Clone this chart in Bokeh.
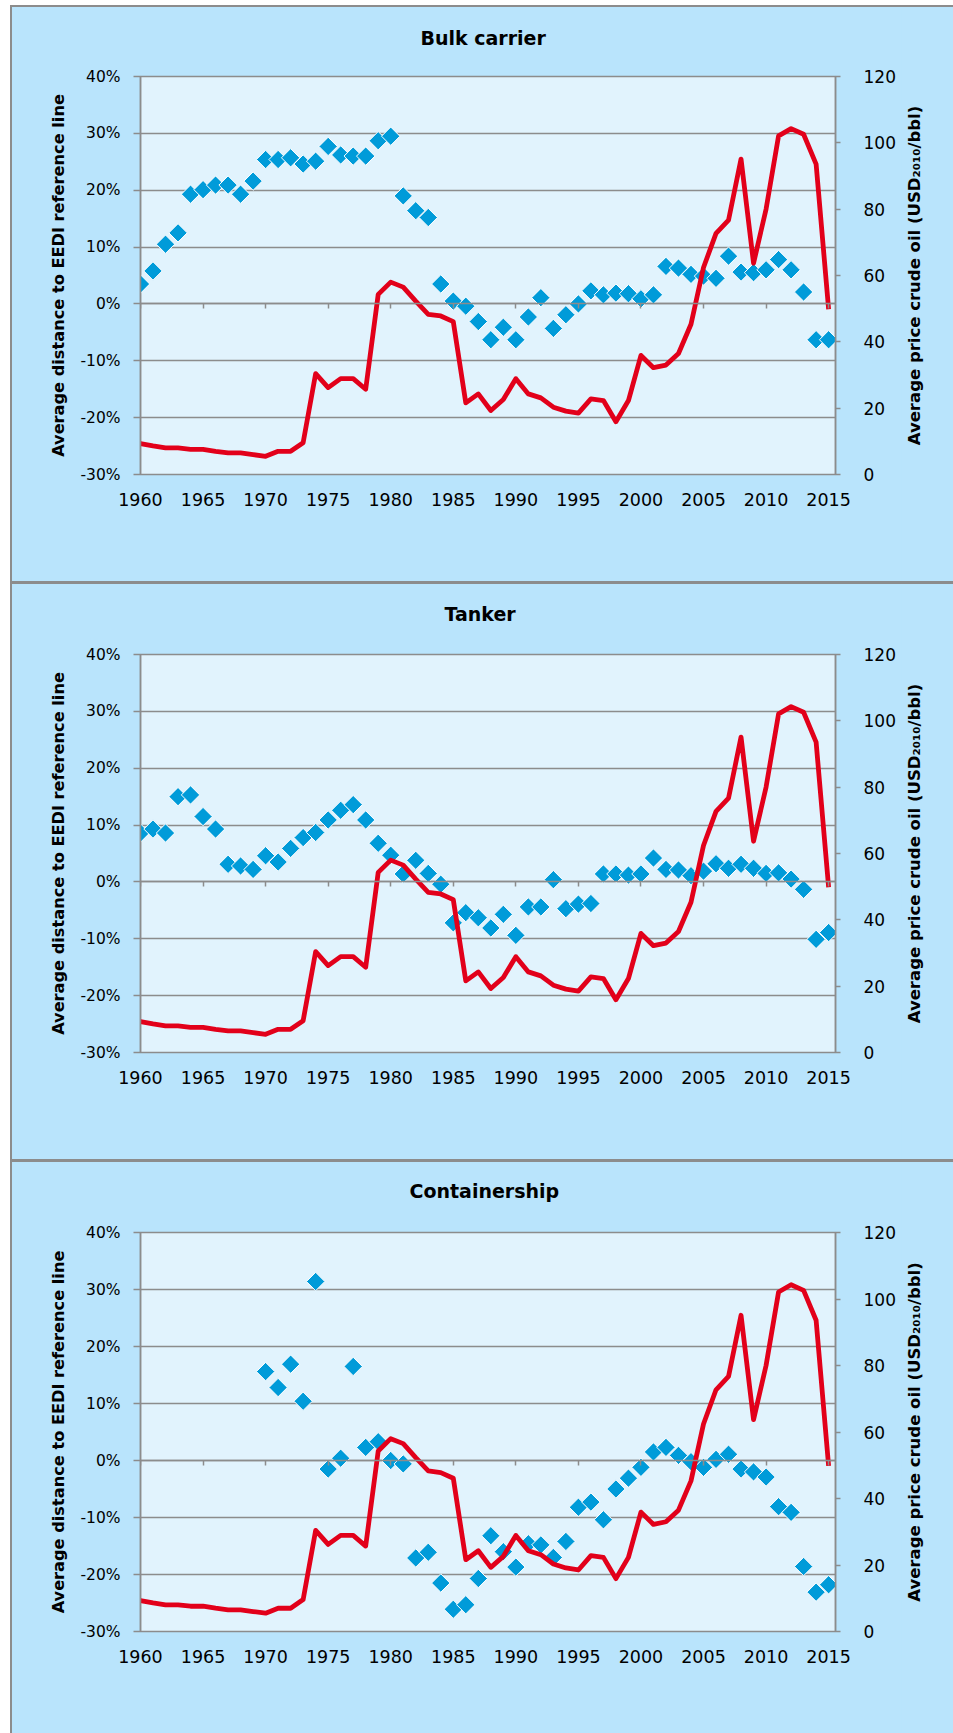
import math
from bokeh.plotting import figure
from bokeh.models import (Range1d, LinearAxis, FixedTicker, PrintfTickFormatter,
                          ColumnDataSource, Spacer, Title)
from bokeh.layouts import column, row
from bokeh.embed import file_html
from bokeh.resources import INLINE

NaN = float("nan")

years = list(range(1960, 2016))

oil_price = [9.3, 8.6, 8.0, 8.0, 7.6, 7.6, 7.0, 6.5, 6.5, 6.0,
             5.5, 7.0, 7.0, 9.6, 30.4, 26.2, 28.9, 28.9, 25.7, 54.3,
             58.0, 56.5, 52.3, 48.3, 47.8, 46.1, 21.6, 24.3, 19.3, 22.6,
             28.9, 24.3, 23.1, 20.3, 19.1, 18.5, 22.8, 22.3, 15.9, 22.3,
             35.9, 32.2, 33.0, 36.5, 45.3, 62.4, 72.7, 76.7, 95.1, 63.7,
             80.0, 102.1, 104.3, 102.6, 93.6, 49.8]

bulk_carrier = [3.5, 5.8, 10.5, 12.5, 19.3, 20.1, 20.9, 20.9, 19.3, 21.6,
                25.4, 25.4, 25.7, 24.6, 25.1, 27.7, 26.2, 26.0, 26.0, 28.7,
                29.5, 19.0, 16.4, 15.2, 3.5, 0.5, -0.4, -3.1, -6.3, -4.1,
                -6.3, -2.3, 1.1, -4.3, -1.9, 0.0, 2.3, 1.6, 1.9, 1.8,
                0.9, 1.6, 6.6, 6.3, 5.2, 4.9, 4.5, 8.4, 5.6, 5.5,
                6.0, 7.8, 6.0, 2.1, -6.3, -6.3]

tanker = [8.6, 9.3, 8.6, 15.0, 15.3, 11.5, 9.3, 3.1, 2.8, 2.2,
          4.6, 3.5, 5.9, 7.8, 8.7, 10.9, 12.6, 13.6, 10.9, 6.8,
          4.7, 1.4, 3.8, 1.5, -0.4, -7.2, -5.4, -6.3, -8.1, -5.7,
          -9.4, -4.4, -4.4, 0.4, -4.7, -3.9, -3.8, 1.4, 1.4, 1.2,
          1.4, 4.2, 2.2, 2.1, 1.1, 1.9, 3.2, 2.4, 3.1, 2.4,
          1.5, 1.6, 0.5, -1.3, -10.1, -8.9]

containership = [NaN] * 10 + [
    15.6, 12.8, 16.9, 10.4, 31.4, -1.5, 0.4, 16.5, 2.3, 3.3,
    0.0, -0.6, -17.1, -16.1, -21.5, -26.1, -25.3, -20.7, -13.2, -16.0,
    -18.7, -14.6, -14.8, -17.0, -14.2, -8.2, -7.3, -10.4, -5.0, -3.1,
    -1.2, 1.5, 2.3, 0.9, -0.2, -1.2, 0.2, 1.1, -1.5, -2.0,
    -2.9, -8.1, -9.1, -18.6, -23.1, -21.8]

titles = ["Bulk carrier", "Tanker", "Containership"]
x_ticks = list(range(1960, 2016, 5))
left_ticks = list(range(-30, 41, 10))
right_ticks = list(range(0, 121, 20))
left_label = "Average distance to EEDI reference line"
right_label = "Average price crude oil (USD\u2082\u2080\u2081\u2080/bbl)"

BG = "#B9E4FC"
PLOT_BG = "#E1F3FD"
GRAY = "#8C8C8C"
BLUE = "#009BD9"
RED = "#E2001A"
TICK_FONT = "DejaVu Sans"
LABEL_FONT = "DejaVu Sans"

MAIN_W = 889
SIDE_W = 52


def make_panel(title, values, height, top, frame_h, title_offset, title_gap):
    bottom = height - top - frame_h
    p = figure(width=MAIN_W, height=height, output_backend="svg", toolbar_location=None,
               x_range=Range1d(1960, 2015.55), y_range=Range1d(-30, 40),
               min_border_left=128, min_border_right=MAIN_W - 128 - 695,
               min_border_top=top, min_border_bottom=bottom,
               border_fill_color=BG, background_fill_color=PLOT_BG,
               outline_line_color=GRAY, outline_line_width=1.5,
               title=None)
    p.extra_y_ranges = {"price": Range1d(0, 120)}

    # spacing element between frame and title, then the title itself
    p.add_layout(Title(text=" ", text_font_size="1px", standoff=title_gap), "above")
    p.add_layout(Title(text=title, align="left", offset=title_offset, standoff=4,
                       text_font=LABEL_FONT, text_font_style="bold",
                       text_font_size="19px", text_color="black"), "above")

    # grid
    p.xgrid.grid_line_color = None
    p.ygrid.ticker = FixedTicker(ticks=left_ticks)
    p.ygrid.grid_line_color = GRAY
    p.ygrid.grid_line_width = 1.5

    # bottom axis with labels only
    xa = p.xaxis[0]
    xa.ticker = FixedTicker(ticks=x_ticks)
    xa.axis_line_color = None
    xa.major_tick_line_color = None
    xa.major_tick_out = 0
    xa.minor_tick_line_color = None
    xa.major_label_standoff = 18
    xa.major_label_text_font = TICK_FONT
    xa.major_label_text_font_size = "17.5px"
    xa.major_label_text_color = "black"

    # left axis
    ya = p.yaxis[0]
    ya.ticker = FixedTicker(ticks=left_ticks)
    ya.formatter = PrintfTickFormatter(format="%d%%")
    ya.axis_line_color = GRAY
    ya.axis_line_width = 1.5
    ya.major_tick_line_color = GRAY
    ya.major_tick_line_width = 1.5
    ya.major_tick_out = 7
    ya.major_tick_in = 0
    ya.minor_tick_line_color = None
    ya.major_label_standoff = 13
    ya.major_label_text_font = TICK_FONT
    ya.major_label_text_font_size = "15.5px"
    ya.major_label_text_color = "black"
    ya.axis_label = left_label
    ya.axis_label_standoff = 9
    ya.axis_label_text_font = LABEL_FONT
    ya.axis_label_text_font_style = "bold"
    ya.axis_label_text_font_size = "16.2px"
    ya.axis_label_text_color = "black"

    # right axis (oil price)
    ra = LinearAxis(y_range_name="price", ticker=FixedTicker(ticks=right_ticks))
    ra.axis_line_color = GRAY
    ra.axis_line_width = 1.5
    ra.major_tick_line_color = GRAY
    ra.major_tick_line_width = 1.5
    ra.major_tick_out = 5
    ra.major_tick_in = 0
    ra.minor_tick_line_color = None
    ra.major_label_standoff = 23
    ra.major_label_text_font = TICK_FONT
    ra.major_label_text_font_size = "17px"
    ra.major_label_text_color = "black"
    p.add_layout(ra, "right")

    # horizontal axis crossing at 0% with tick marks
    za = LinearAxis(fixed_location=0, ticker=FixedTicker(ticks=x_ticks))
    za.axis_line_color = GRAY
    za.axis_line_width = 1.5
    za.major_tick_line_color = GRAY
    za.major_tick_line_width = 1.5
    za.major_tick_out = 5
    za.major_tick_in = 0
    za.minor_tick_line_color = None
    za.major_label_text_font_size = "0px"
    za.major_label_text_color = None
    p.add_layout(za, "below")

    src = ColumnDataSource(dict(year=years, dist=values, oil=oil_price))
    p.scatter("year", "dist", source=src, marker="square", angle=math.pi / 4,
              size=13, fill_color=BLUE, line_color="white", line_width=1)
    p.line("year", "oil", source=src, y_range_name="price",
           line_color=RED, line_width=4.8, line_join="round")

    # narrow companion figure carrying the right-hand axis title (reads bottom-to-top)
    s = figure(width=SIDE_W, height=height, output_backend="svg", toolbar_location=None,
               x_range=Range1d(0, 1), y_range=Range1d(0, 120),
               min_border_left=17, min_border_right=0,
               min_border_top=top, min_border_bottom=bottom,
               border_fill_color=BG, background_fill_color=None,
               outline_line_color=None, title=None)
    s.xaxis.visible = False
    s.grid.visible = False
    sa = s.yaxis[0]
    sa.ticker = FixedTicker(ticks=[])
    sa.axis_line_color = None
    sa.major_tick_line_color = None
    sa.minor_tick_line_color = None
    sa.major_tick_out = 0
    sa.major_label_standoff = 0
    sa.axis_label = right_label
    sa.axis_label_standoff = 0
    sa.axis_label_text_font = LABEL_FONT
    sa.axis_label_text_font_style = "bold"
    sa.axis_label_text_font_size = "16.5px"
    sa.axis_label_text_color = "black"
    return row(p, s, styles={"background-color": BG})


r1 = make_panel(titles[0], bulk_carrier, 574, 69, 398, 280, 22.5)
r2 = make_panel(titles[1], tanker, 575, 70, 398, 304, 25)
r3 = make_panel(titles[2], containership, 571, 70, 399, 269, 25.5)

panels = column(r1, r2, r3, spacing=3)
mid = row(Spacer(width=2, height=1726), panels)
right_part = column(Spacer(width=943, height=5, styles={"background-color": "white"}),
                    Spacer(width=943, height=2),
                    mid)
layout = row(Spacer(width=10, height=1733, styles={"background-color": "white"}),
             right_part, styles={"background-color": GRAY})

open("out.html", "w").write(file_html(layout, INLINE))
